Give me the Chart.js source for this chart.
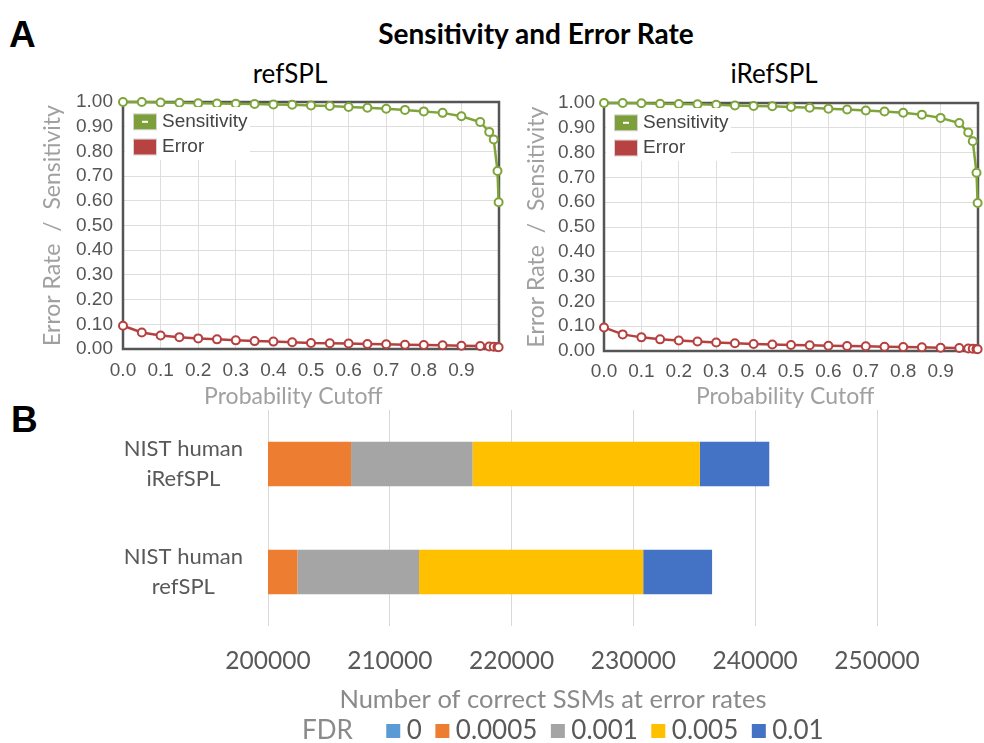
<!DOCTYPE html>
<html><head><meta charset="utf-8">
<script src="https://cdn.jsdelivr.net/npm/chart.js@4.4.1/dist/chart.umd.min.js"></script>
<style>
html,body{margin:0;padding:0;background:#fff;}
body{width:984px;height:743px;overflow:hidden;position:relative;}
.abs{position:absolute;line-height:1;white-space:nowrap;}
#lblA{left:9px;top:13.7px;font:bold 37px "Liberation Sans",Arial,sans-serif;color:#000;}
#lblB{left:11px;top:398.7px;font:bold 37px "Liberation Sans",Arial,sans-serif;color:#000;}
#mainTitle{left:536px;top:33px;transform:translate(-50%,-50%);font:bold 28px Lato,sans-serif;color:#000;}
#t1{left:290px;top:73px;transform:translate(-50%,-50%);font:26px Lato,sans-serif;color:#000;}
#t2{left:774px;top:73px;transform:translate(-50%,-50%);font:26px Lato,sans-serif;color:#000;}
.box{position:absolute;}
</style></head>
<body>
<div class="abs" id="lblA">A</div>
<div class="abs" id="lblB">B</div>
<div class="abs" id="mainTitle">Sensitivity and Error Rate</div>
<div class="abs" id="t1">refSPL</div>
<div class="abs" id="t2">iRefSPL</div>
<div class="box" style="left:0;top:90px;width:505px;height:320px"><canvas id="c1"></canvas></div>
<div class="box" style="left:505px;top:90px;width:479px;height:320px"><canvas id="c2"></canvas></div>
<div class="box" style="left:0;top:400px;width:984px;height:354px"><canvas id="c3"></canvas></div>
<script>
// ---------- Panel A data ----------
const cutoffs = [0,0.05,0.1,0.15,0.2,0.25,0.3,0.35,0.4,0.45,0.5,0.55,0.6,0.65,0.7,0.75,0.8,0.85,0.9,0.95,0.974,0.986,0.996,0.999];
const refSensitivity = [1.000,1.000,0.998,0.997,0.995,0.994,0.993,0.992,0.990,0.989,0.986,0.984,0.980,0.977,0.973,0.968,0.962,0.956,0.942,0.919,0.879,0.848,0.721,0.594];
const refError = [0.094,0.067,0.055,0.048,0.043,0.039,0.035,0.032,0.030,0.027,0.024,0.023,0.022,0.020,0.019,0.017,0.016,0.015,0.013,0.012,0.010,0.009,0.008,0.007];
const iRefSensitivity = [1.000,1.000,0.999,0.997,0.996,0.995,0.993,0.990,0.988,0.987,0.984,0.981,0.977,0.974,0.970,0.966,0.961,0.953,0.940,0.919,0.881,0.846,0.719,0.597];
const iRefError = [0.095,0.067,0.055,0.047,0.042,0.038,0.034,0.031,0.028,0.026,0.024,0.023,0.021,0.020,0.019,0.017,0.016,0.015,0.013,0.012,0.010,0.009,0.008,0.007];
const seriesNames = ['Sensitivity','Error'];

// ---------- Panel B data ----------
const barCategories = [['NIST human','iRefSPL'],['NIST human','refSPL']];
const fdrLabels = ['0','0.0005','0.001','0.005','0.01'];
const fdr0 = [200000, 200000];
const fdr00005 = [6820, 2415];
const fdr0001 = [9975, 9985];
const fdr0005 = [18660, 18405];
const fdr001 = [5700, 5655];

const GREEN = '#7ea43a', RED = '#b5403f';
const GREEN_SQ = '#7c9f3c', RED_SQ = '#b64242';

const plotBorder = {
  id: 'plotBorder',
  beforeDatasetsDraw(chart) {
    const {ctx, chartArea: a} = chart;
    ctx.save();
    ctx.strokeStyle = '#555';
    ctx.lineWidth = 2.5;
    ctx.strokeRect(a.left, a.top, a.right - a.left, a.bottom - a.top);
    ctx.restore();
  }
};

const innerLegend = {
  id: 'innerLegend',
  afterDatasetsDraw(chart) {
    const {ctx, chartArea: a} = chart;
    ctx.save();
    ctx.fillStyle = '#fff';
    ctx.fillRect(a.left + 2, a.top + 5, 125, 53);
    chart.data.datasets.forEach((ds, i) => {
      const y = a.top + 12.3 + i * 25.2;
      ctx.strokeStyle = '#d4d4d4'; ctx.lineWidth = 1;
      ctx.strokeRect(a.left + 10.5, y - 0.5, 23, 16);
      ctx.fillStyle = ds.backgroundColor;
      ctx.fillRect(a.left + 11, y, 22, 15);
      if (i === 0) { ctx.fillStyle = '#fff'; ctx.fillRect(a.left + 19, y + 6.5, 6, 2); }
      ctx.fillStyle = '#444';
      ctx.font = '19px "Liberation Sans", Arial, sans-serif';
      ctx.textBaseline = 'middle'; ctx.textAlign = 'left';
      ctx.fillText(ds.label, a.left + 39, y + 7.5);
    });
    ctx.restore();
  }
};

function pinX(h) { return s => { s.height = h; s.paddingLeft = 0; s.paddingRight = 0; }; }
function pinY(w) { return s => { s.width = w; s.paddingTop = 0; s.paddingBottom = 0; }; }

function lineConfig(sens, err, opt) {
  const pts = arr => cutoffs.map((c, i) => ({x: c, y: arr[i]}));
  const ds = (label, data, col, sq) => ({
    label, data: pts(data), borderColor: col, backgroundColor: sq,
    borderWidth: 2.5, pointRadius: 4, pointBorderWidth: 2,
    pointBackgroundColor: '#fff', pointBorderColor: col, tension: 0, clip: false
  });
  return {
    type: 'line',
    data: { datasets: [ ds(seriesNames[0], sens, GREEN, GREEN_SQ), ds(seriesNames[1], err, RED, RED_SQ) ] },
    options: {
      responsive: true, maintainAspectRatio: false, animation: false,
      layout: { padding: { top: opt.top, right: opt.right, left: 0, bottom: 0 } },
      plugins: { legend: { display: false }, tooltip: { enabled: false } },
      scales: {
        x: {
          type: 'linear', min: 0, max: 1,
          afterFit: pinX(opt.xh),
          grid: { color: '#dedede', drawTicks: false },
          border: { display: false },
          ticks: { stepSize: 0.1, padding: opt.xpad, color: '#555', maxRotation: 0, autoSkip: false,
                   font: { family: '"Liberation Sans", Arial, sans-serif', size: 19 },
                   callback: v => (v > 0.95 ? '' : Number(v).toFixed(1)) },
          title: { display: true, text: 'Probability Cutoff' + opt.xtail, color: '#a0a0a0',
                   font: { family: 'Lato, sans-serif', size: 23 }, padding: { top: 0, bottom: 0 } }
        },
        y: {
          min: 0, max: 1,
          afterFit: pinY(opt.yw),
          grid: { color: '#dedede', drawTicks: false },
          border: { display: false },
          ticks: { stepSize: 0.1, autoSkip: false, padding: opt.ypad, color: '#555',
                   font: { family: '"Liberation Sans", Arial, sans-serif', size: 19 },
                   callback: v => Number(v).toFixed(2) },
          title: { display: true, text: 'Error Rate  /  Sensitivity', color: '#a0a0a0',
                   font: { family: 'Lato, sans-serif', size: 23 }, padding: { top: opt.ytp, bottom: 0 } }
        }
      }
    },
    plugins: [plotBorder, innerLegend]
  };
}

new Chart(document.getElementById('c1'), lineConfig(refSensitivity, refError,
  { top: 12, right: 5, xh: 61, yw: 123, xpad: 10, ypad: 10, ytp: 39, xtail: '      ' }));
new Chart(document.getElementById('c2'), lineConfig(iRefSensitivity, iRefError,
  { top: 13, right: 2, xh: 59, yw: 99, xpad: 9, ypad: 9, ytp: 18, xtail: '  ' }));

// ---------- Panel B chart ----------
const barColors = ['#5b9bd5', '#ed7d31', '#a5a5a5', '#ffc000', '#4472c4'];
const barSeries = [fdr0, fdr00005, fdr0001, fdr0005, fdr001];

// legend swatch: a 14x14 square inside a wider transparent canvas
function swatch(color) {
  const c = document.createElement('canvas');
  c.width = 22; c.height = 14;
  const g = c.getContext('2d');
  if (color) { g.fillStyle = color; g.fillRect(4, 0, 14, 14); }
  return c;
}

new Chart(document.getElementById('c3'), {
  type: 'bar',
  data: {
    labels: barCategories,
    datasets: barSeries.map((d, i) => ({
      label: fdrLabels[i], data: d, backgroundColor: barColors[i],
      borderWidth: 0, categoryPercentage: 1, barPercentage: 0.41
    }))
  },
  options: {
    indexAxis: 'y',
    responsive: true, maintainAspectRatio: false, animation: false,
    layout: { padding: { top: 10, right: 107, left: 0, bottom: 0 } },
    plugins: {
      tooltip: { enabled: false },
      legend: {
        position: 'bottom', fullSize: false, align: 'start',
        labels: {
          usePointStyle: true, pointStyleWidth: 1,
          boxWidth: 14, boxHeight: 14, padding: 20, color: '#595959',
          font: { family: 'Lato, sans-serif', size: 26 },
          generateLabels(chart) {
            const items = Chart.defaults.plugins.legend.labels.generateLabels(chart);
            items.forEach(it => { it.pointStyle = swatch(barColors[it.datasetIndex]); });
            items.unshift({ text: 'FDR   ', fillStyle: 'rgba(0,0,0,0)', strokeStyle: 'rgba(0,0,0,0)',
                            lineWidth: 0, hidden: false, datasetIndex: -1, fontColor: '#8a8a8a',
                            pointStyle: swatch(null) });
            return items;
          }
        },
        onClick: () => {}
      }
    },
    scales: {
      x: {
        stacked: true, min: 200000, max: 250000,
        afterFit: pinX(72),
        grid: { color: '#d9d9d9', drawTicks: false },
        border: { display: false },
        ticks: { stepSize: 10000, padding: 20, color: '#595959', maxRotation: 0,
                 font: { family: 'Lato, sans-serif', size: 24.5 }, callback: v => String(v) },
        title: { display: true, text: 'Number of correct SSMs at error rates      ', color: '#8a8a8a',
                 font: { family: 'Lato, sans-serif', size: 25.5 }, padding: { top: 0, bottom: -17.5 } }
      },
      y: {
        stacked: true,
        afterFit: pinY(268),
        grid: { display: false, drawTicks: false },
        border: { display: false },
        ticks: { padding: 25, crossAlign: 'center', color: '#595959',
                 font: { family: 'Lato, sans-serif', size: 22, lineHeight: 1.4 } }
      }
    }
  }
});
</script>
</body></html>
